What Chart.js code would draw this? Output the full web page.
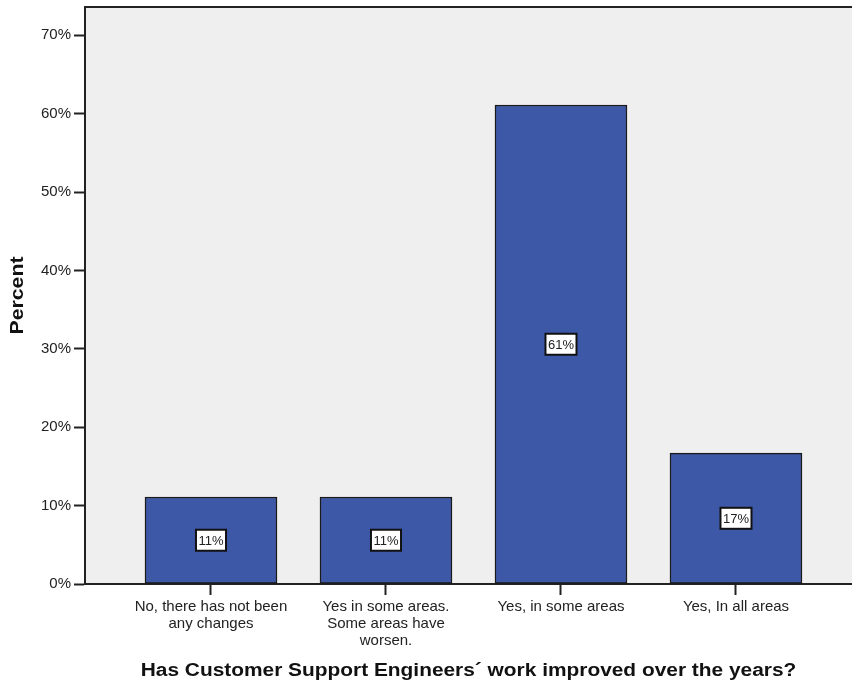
<!DOCTYPE html>
<html>
<head>
<meta charset="utf-8">
<script src="https://cdn.jsdelivr.net/npm/chart.js@4"></script>
<style>
    html, body { margin: 0; padding: 0; background: #fff; overflow: hidden; }
    #wrap { width: 852px; height: 684px; }
</style>
</head>
<body>
<div id="wrap"><canvas id="improvedChart"></canvas></div>
<script>
// survey answers and their share of respondents
var categories = [
    ['No, there has not been', 'any changes'],
    ['Yes in some areas.', 'Some areas have', 'worsen.'],
    ['Yes, in some areas'],
    ['Yes, In all areas']
];
var percents = [11.1, 11.1, 61.1, 16.7];
var yTicks = [0, 10, 20, 30, 40, 50, 60, 70];

var xTitle = 'Has Customer Support Engineers\u00b4 work improved over the years?';
var yTitle = 'Percent';

var fontFamily = "Arial, 'Liberation Sans', sans-serif";

// grey plot area and its top frame line
var plotBackground = {
    id: 'plotBackground',
    beforeDraw: function (chart) {
        var a = chart.chartArea;
        var ctx = chart.ctx;
        ctx.save();
        ctx.fillStyle = '#efefef';
        ctx.fillRect(a.left, a.top, a.right - a.left, a.bottom - a.top);
        ctx.strokeStyle = '#222';
        ctx.lineWidth = 2;
        ctx.beginPath();
        ctx.moveTo(a.left, a.top);
        ctx.lineTo(a.right, a.top);
        ctx.stroke();
        ctx.restore();
    }
};

// boxed percent label in the middle of each bar
var barLabels = {
    id: 'barLabels',
    afterDatasetsDraw: function (chart) {
        var ctx = chart.ctx;
        var meta = chart.getDatasetMeta(0);
        ctx.save();
        ctx.font = '13px ' + fontFamily;
        ctx.textAlign = 'center';
        ctx.textBaseline = 'middle';
        meta.data.forEach(function (bar, i) {
            var text = Math.round(percents[i]) + '%';
            var w = ctx.measureText(text).width + 5;
            var h = 21;
            var cx = bar.x;
            var cy = (bar.y + bar.base) / 2;
            ctx.fillStyle = '#fff';
            ctx.fillRect(cx - w / 2, cy - h / 2, w, h);
            ctx.strokeStyle = '#111';
            ctx.lineWidth = 2;
            ctx.strokeRect(cx - w / 2, cy - h / 2, w, h);
            ctx.fillStyle = '#222';
            ctx.fillText(text, cx, cy + 1);
        });
        ctx.restore();
    }
};

// bold axis titles, drawn a bit wide like the SPSS output
var axisTitles = {
    id: 'axisTitles',
    afterDraw: function (chart) {
        var a = chart.chartArea;
        var ctx = chart.ctx;
        ctx.save();
        ctx.fillStyle = '#111';
        ctx.font = 'bold 18px ' + fontFamily;
        ctx.textAlign = 'center';
        ctx.textBaseline = 'middle';

        ctx.save();
        ctx.translate((a.left + a.right) / 2, chart.height - 13);
        ctx.scale(1.16, 1);
        ctx.fillText(xTitle, 0, 0);
        ctx.restore();

        ctx.translate(18, (a.top + a.bottom) / 2);
        ctx.rotate(-Math.PI / 2);
        ctx.scale(1.18, 1);
        ctx.fillText(yTitle, 0, 0);
        ctx.restore();
    }
};

var ctx = document.getElementById('improvedChart');

var improvedChart = new Chart(ctx, {
    type: 'bar',
    data: {
        datasets: [{
            data: percents.map(function (v, i) { return { x: i, y: v }; }),
            backgroundColor: '#3e58a8',
            borderColor: '#1a1a1a',
            borderWidth: 1.5,
            borderSkipped: false,
            barThickness: 132
        }]
    },
    options: {
        responsive: true,
        maintainAspectRatio: false,
        animation: false,
        layout: { padding: { top: 7, right: 0, left: 0, bottom: 0 } },
        plugins: {
            legend: { display: false },
            tooltip: { enabled: false }
        },
        scales: {
            x: {
                type: 'linear',
                offset: false,
                min: -0.72,
                max: 3.663,
                afterBuildTicks: function (scale) {
                    scale.ticks = categories.map(function (_, i) { return { value: i }; });
                },
                afterFit: function (scale) { scale.height = 100; },
                ticks: {
                    autoSkip: false,
                    maxRotation: 0,
                    padding: 3,
                    color: '#222',
                    font: { family: fontFamily, size: 15, lineHeight: 1.15 },
                    callback: function (value) { return categories[value]; }
                },
                grid: {
                    offset: false,
                    drawOnChartArea: false,
                    tickLength: 11,
                    tickWidth: 2,
                    tickColor: '#222'
                },
                border: { color: '#222', width: 2 }
            },
            y: {
                min: 0,
                max: 73.6,
                afterBuildTicks: function (scale) {
                    scale.ticks = yTicks.map(function (v) { return { value: v }; });
                },
                afterFit: function (scale) {
                    scale.width = 85;
                    scale.paddingTop = 0;
                },
                ticks: {
                    padding: 3,
                    color: '#222',
                    font: { family: fontFamily, size: 15 },
                    callback: function (value) { return value + '%'; }
                },
                grid: {
                    drawOnChartArea: false,
                    tickLength: 11,
                    tickWidth: 2,
                    tickColor: '#222'
                },
                border: { color: '#222', width: 2 }
            }
        }
    },
    plugins: [plotBackground, barLabels, axisTitles]
});
</script>
</body>
</html>
